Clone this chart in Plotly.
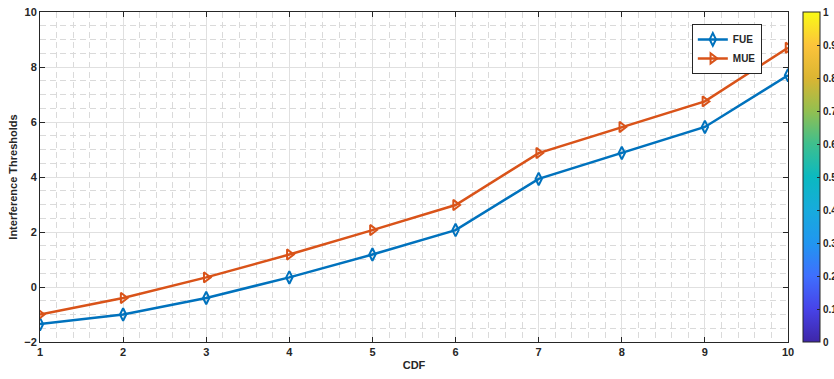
import plotly.graph_objects as go

cdf = [1, 2, 3, 4, 5, 6, 7, 8, 9, 10]
fue = [-1.35, -1.0, -0.4, 0.35, 1.18, 2.07, 3.93, 4.87, 5.82, 7.7]
mue = [-1.0, -0.4, 0.35, 1.18, 2.07, 2.98, 4.87, 5.82, 6.75, 8.7]
cbar_ticks = [0, 0.1, 0.2, 0.3, 0.4, 0.5, 0.6, 0.7, 0.8, 0.9, 1]

parula = [
    [0.0, "#3e26a8"], [0.1, "#4743e8"], [0.2, "#3f6ffe"], [0.3, "#2196f0"],
    [0.4, "#17abdc"], [0.5, "#0bb9c0"], [0.6, "#3ebf8e"], [0.7, "#93bf50"],
    [0.8, "#dbb532"], [0.9, "#fcc43b"], [1.0, "#f9fb15"],
]

FONT = "Liberation Sans, Arial, sans-serif"

fig = go.Figure()
fig.add_trace(go.Scatter(
    x=cdf, y=fue, name="FUE", mode="lines+markers",
    line=dict(color="#0072BD", width=2.5),
    marker=dict(symbol="diamond-tall-open", size=9, color="#0072BD",
                line=dict(width=2, color="#0072BD")),
))
fig.add_trace(go.Scatter(
    x=cdf, y=mue, name="MUE", mode="lines+markers",
    line=dict(color="#D95319", width=2.5),
    marker=dict(symbol="triangle-right-open", size=9, color="#D95319",
                line=dict(width=2, color="#D95319")),
))
# invisible trace for the colorbar
fig.add_trace(go.Scatter(
    x=[None], y=[None], mode="markers", showlegend=False, hoverinfo="skip",
    marker=dict(color=[0, 1], cmin=0, cmax=1, colorscale=parula, showscale=True,
                colorbar=dict(
                    x=1.02, xanchor="left", xpad=0, y=0.5, yanchor="middle",
                    len=1, lenmode="fraction", ypad=0, thickness=17,
                    outlinecolor="#262626", outlinewidth=1,
                    tickvals=cbar_ticks, ticktext=[f"{v:g}" for v in cbar_ticks],
                    ticks="inside", ticklen=3, tickcolor="#262626",
                    tickfont=dict(family=FONT, size=10, color="#262626", weight="bold"),
                )),
))

axis_common = dict(
    showline=True, linecolor="#262626", linewidth=1, mirror="ticks",
    ticks="inside", ticklen=5, tickcolor="#262626",
    showgrid=True, gridcolor="#e0e0e0", gridwidth=1,
    zeroline=False, automargin=False,
    tickfont=dict(family=FONT, size=11, color="#262626", weight="bold"),
)

fig.update_xaxes(
    range=[1, 10], dtick=1, tick0=1,
    minor=dict(dtick=0.2, showgrid=True, gridcolor="#dadada", griddash="6px,4px",
               gridwidth=1, ticks=""),
    title=dict(text="CDF", font=dict(family=FONT, size=11, color="#262626", weight="bold"),
               standoff=4),
    **axis_common,
)
fig.update_yaxes(
    range=[-2, 10], dtick=2, tick0=0,
    minor=dict(dtick=0.5, showgrid=True, gridcolor="#dadada", griddash="6px,4px",
               gridwidth=1, ticks=""),
    title=dict(text="Interference Thresholds",
               font=dict(family=FONT, size=11, color="#262626", weight="bold"),
               standoff=4),
    **axis_common,
)

fig.update_layout(
    width=834, height=379,
    margin=dict(l=40, r=46, t=12, b=37, autoexpand=False),
    paper_bgcolor="white", plot_bgcolor="white",
    legend=dict(x=0.965, xanchor="right", y=0.964, yanchor="top",
                bgcolor="white", bordercolor="#262626", borderwidth=1,
                font=dict(family=FONT, size=10, color="#262626", weight="bold"),
                itemwidth=30, tracegroupgap=0),
    showlegend=True,
)

fig.write_html("out.html",
               config={"displayModeBar": False},
               post_script="document.body.style.margin='0';document.body.style.overflow='hidden';")
